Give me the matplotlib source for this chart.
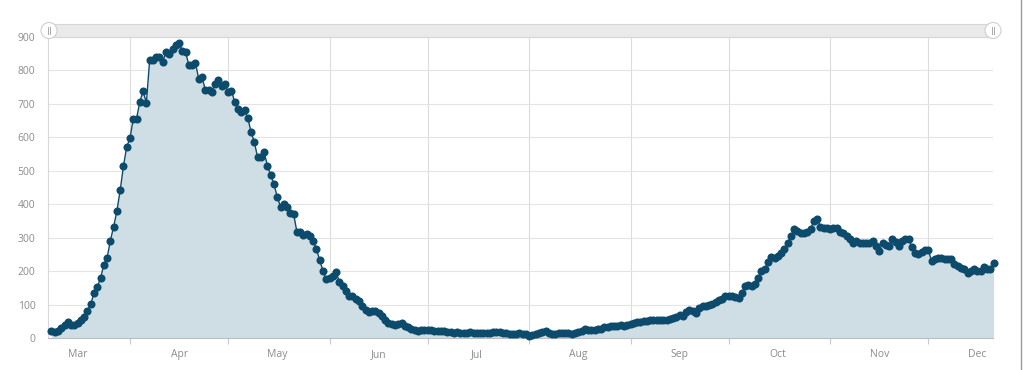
import numpy as np
import pandas as pd
import matplotlib
matplotlib.use("Agg")
import matplotlib.pyplot as plt
import matplotlib.dates as mdates
from matplotlib.patches import Rectangle, Circle

plt.rcParams['font.family'] = ['Open Sans', 'DejaVu Sans']

# ---------------- data ----------------
start_date = "2020-03-08"

spring_rise = [22, 18, 22, 30, 38, 47, 38, 40, 45, 55, 63, 82, 101, 134, 152, 179, 219, 240,
               291, 333, 380, 442, 514, 572, 597, 656, 656, 706, 738, 703, 830, 830, 840, 840,
               825, 855, 850, 865, 875, 882]
spring_decline = [858, 855, 815, 817, 823, 775, 780, 743, 743, 736, 760, 770, 752, 760, 736,
                  740, 706, 686, 676, 681, 658, 616, 586, 540, 542, 556, 515, 487, 460, 422,
                  393, 400, 391, 373, 371, 318, 318]
early_summer = [308, 310, 305, 290, 265, 233, 200, 175, 180, 185, 198, 167, 155, 142, 125, 127,
                118, 110, 95, 85, 77, 80, 82, 75, 67, 55, 45, 42, 40, 43, 45, 37, 32, 27, 25,
                20, 23, 23, 25, 23, 20, 22]
summer = [22, 20, 19, 17, 15, 17, 15, 15, 15, 17, 15, 15, 15, 15, 15, 15, 17, 17, 18, 15, 14,
          13, 13, 13, 14, 13, 12, 7, 10, 13, 14, 17, 20, 15, 13, 13, 14, 15, 15, 14, 13, 15,
          18, 22, 27, 24, 23, 25, 26, 28, 32, 32, 35, 37, 37, 38]
autumn_rise = [37, 40, 43, 45, 47, 48, 50, 52, 55, 55, 55, 55, 55, 55, 57, 60, 63, 70, 65, 77,
               83, 80, 75, 90, 97, 95, 98, 103, 107, 113, 117, 125, 127, 125, 123, 120, 135,
               155, 157, 155, 162, 180, 200, 205, 227, 242, 238, 245, 255, 267, 283]
autumn_wave = [305, 325, 320, 313, 315, 317, 325, 350, 357, 333, 330, 330, 325, 330, 330, 317,
               315, 305, 295, 283, 290, 283, 283, 283, 283, 290, 275, 260, 283, 277, 275, 295,
               287, 275, 290, 295, 295, 273, 253, 250, 257, 263, 263, 230, 235, 240, 240, 235,
               235, 235, 220, 215, 210, 205, 193, 200, 205, 200, 200, 213, 205, 207, 223]

month_labels = ["Mar", "Apr", "May", "Jun", "Jul", "Aug", "Sep", "Oct", "Nov", "Dec"]
y_ticks = [0, 100, 200, 300, 400, 500, 600, 700, 800, 900]

values = np.array(spring_rise + spring_decline + early_summer + summer + autumn_rise + autumn_wave)
dates = pd.date_range(start_date, periods=len(values), freq="D")

# ---------------- styling ----------------
line_col = "#0d4b6c"
fill_col = "#cfdde5"
grid_col = "#e4e4e4"
text_col = "#8c8c8c"

fig = plt.figure(figsize=(10.24, 3.70), dpi=100)
W, H = 1024, 370
left, right, top, bottom = 48, 993, 37, 338
ax = fig.add_axes([left / W, 1 - bottom / H, (right - left) / W, (bottom - top) / H])

ax.fill_between(dates, values, 0, color=fill_col, zorder=1, linewidth=0)
ax.plot(dates, values, color=line_col, linewidth=1.0, marker="o", markersize=5.8,
        markeredgewidth=0, zorder=3, clip_on=False)

ax.set_ylim(0, 900)
ax.set_yticks(y_ticks)
ax.set_yticklabels([str(v) for v in y_ticks])
ax.set_xlim(pd.Timestamp("2020-03-06 22:30"), pd.Timestamp("2020-12-20 18:30"))

ax.xaxis.set_major_locator(mdates.MonthLocator(bymonthday=1))
ax.xaxis.set_major_formatter(plt.NullFormatter())
ax.xaxis.set_minor_locator(mdates.MonthLocator(bymonthday=16))
ax.xaxis.set_minor_formatter(mdates.DateFormatter("%b"))

ax.tick_params(axis="x", which="major", length=4, color="#c8c8c8", width=0.8)
ax.tick_params(axis="x", which="minor", length=0, pad=8, labelsize=7.5, labelcolor=text_col)
ax.tick_params(axis="y", length=0, pad=9, labelsize=7.5, labelcolor=text_col)

ax.grid(True, axis="y", color=grid_col, linewidth=0.8, zorder=0)
ax.grid(True, axis="x", which="major", color="#dcdcdc", linewidth=0.8, zorder=0)
ax.set_axisbelow(True)

for s in ["top", "right"]:
    ax.spines[s].set_visible(False)
ax.spines["left"].set_color("#d8d8d8")
ax.spines["left"].set_linewidth(0.8)
ax.spines["bottom"].set_color("#bdbdbd")
ax.spines["bottom"].set_linewidth(0.8)

# ---------------- overlay (range slider and border) ----------------
ov = fig.add_axes([0, 0, 1, 1], zorder=5)
ov.set_xlim(0, W)
ov.set_ylim(H, 0)
ov.axis("off")
ov.patch.set_alpha(0)
ov.add_patch(Rectangle((left, 23.5), right - left, 13.5, facecolor="#eaeaea",
                       edgecolor="#d6d6d6", linewidth=0.8))
for cx in (left + 1, right):
    ov.add_patch(Circle((cx, 30.5), 8, facecolor="white", edgecolor="#d0d0d0", linewidth=0.8))
    ov.plot([cx - 1.3, cx - 1.3], [27, 34], color="#aaaaaa", linewidth=0.7)
    ov.plot([cx + 1.3, cx + 1.3], [27, 34], color="#aaaaaa", linewidth=0.7)
ov.plot([1020.5, 1020.5], [0, H], color="#9a9a9a", linewidth=1.0)

fig.savefig("out.png", dpi=100)
